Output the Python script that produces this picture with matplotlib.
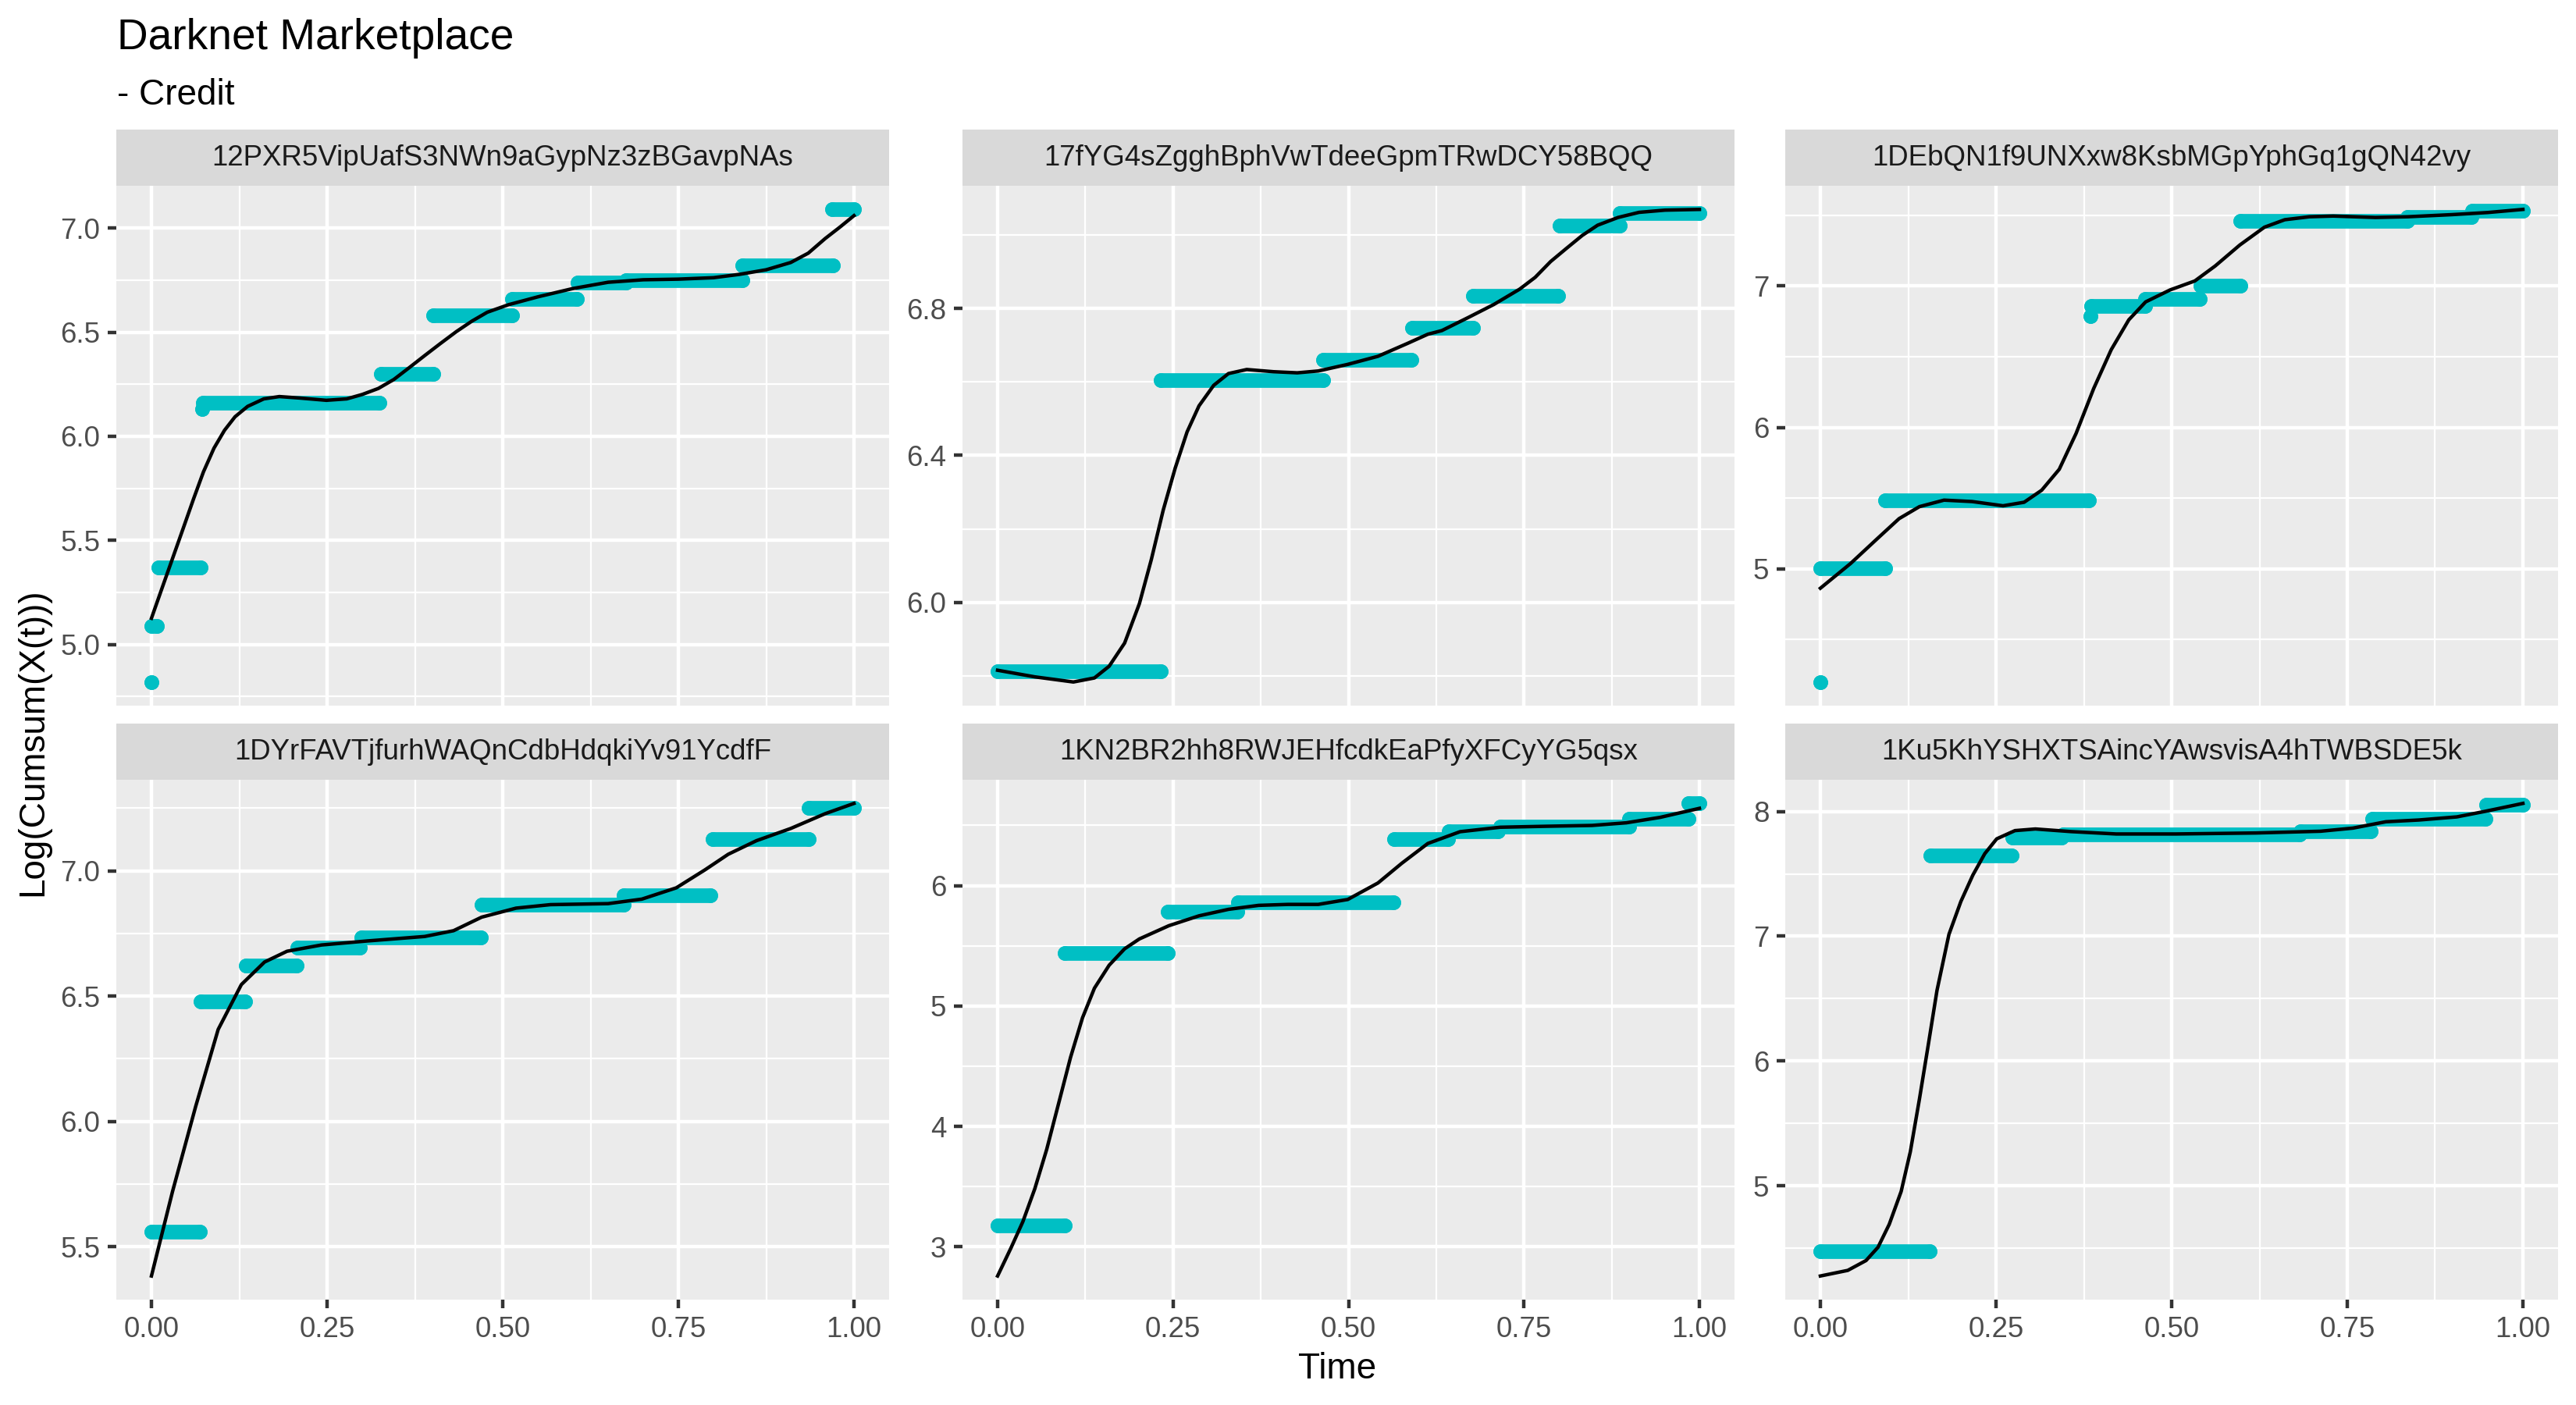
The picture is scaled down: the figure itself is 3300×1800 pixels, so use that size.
import matplotlib
matplotlib.use("Agg")
import matplotlib.pyplot as plt

plt.rcParams['font.family'] = ['Liberation Sans', 'DejaVu Sans']

TEAL = '#00BFC4'
W, H, DPI = 3300, 1800, 300

title = "Darknet Marketplace"
subtitle = "- Credit"
x_title = "Time"
y_title = "Log(Cumsum(X(t)))"

addresses = [
    "12PXR5VipUafS3NWn9aGypNz3zBGavpNAs",
    "17fYG4sZgghBphVwTdeeGpmTRwDCY58BQQ",
    "1DEbQN1f9UNXxw8KsbMGpYphGq1gQN42vy",
    "1DYrFAVTjfurhWAQnCdbHdqkiYv91YcdfF",
    "1KN2BR2hh8RWJEHfcdkEaPfyXFCyYG5qsx",
    "1Ku5KhYSHXTSAincYAwsvisA4hTWBSDE5k",
]

# observed steps: start time, end time, log cumulative value
p1_start = [0.000, 0.000, 0.010, 0.072, 0.073, 0.327, 0.401, 0.513, 0.607, 0.675, 0.841, 0.969]
p1_end   = [0.000, 0.008, 0.070, 0.072, 0.324, 0.401, 0.513, 0.606, 0.675, 0.841, 0.970, 1.000]
p1_value = [4.82, 5.09, 5.37, 6.13, 6.16, 6.30, 6.58, 6.66, 6.74, 6.75, 6.82, 7.09]

p2_start = [0.000, 0.233, 0.464, 0.591, 0.677, 0.801, 0.887]
p2_end   = [0.233, 0.464, 0.590, 0.677, 0.799, 0.886, 1.000]
p2_value = [5.812, 6.605, 6.660, 6.748, 6.834, 7.027, 7.061]

p3_start = [0.000, 0.000, 0.092, 0.384, 0.385, 0.462, 0.541, 0.598, 0.836, 0.928]
p3_end   = [0.000, 0.092, 0.382, 0.384, 0.462, 0.540, 0.598, 0.836, 0.927, 1.000]
p3_value = [4.20, 5.003, 5.482, 6.79, 6.859, 6.908, 7.000, 7.461, 7.488, 7.534]

p4_start = [0.000, 0.070, 0.134, 0.208, 0.299, 0.470, 0.672, 0.799, 0.935]
p4_end   = [0.069, 0.133, 0.207, 0.297, 0.469, 0.672, 0.796, 0.935, 1.000]
p4_value = [5.559, 6.478, 6.621, 6.693, 6.733, 6.864, 6.903, 7.127, 7.251]

p5_start = [0.000, 0.096, 0.243, 0.343, 0.565, 0.643, 0.716, 0.900, 0.984]
p5_end   = [0.096, 0.242, 0.342, 0.564, 0.642, 0.713, 0.900, 0.984, 1.000]
p5_value = [3.175, 5.437, 5.784, 5.862, 6.388, 6.451, 6.493, 6.552, 6.683]

p6_start = [0.000, 0.157, 0.273, 0.346, 0.683, 0.786, 0.948]
p6_end   = [0.156, 0.272, 0.343, 0.682, 0.783, 0.947, 1.000]
p6_value = [4.477, 7.645, 7.792, 7.817, 7.842, 7.939, 8.054]

# loess smooth
p1_smooth_t = [0.0, 0.015, 0.030, 0.045, 0.060, 0.074, 0.089, 0.104, 0.119, 0.137, 0.160, 0.182,
               0.211, 0.249, 0.278, 0.300, 0.323, 0.345, 0.367, 0.389, 0.411, 0.434, 0.456,
               0.478, 0.508, 0.55, 0.6, 0.65, 0.7, 0.75, 0.8, 0.837, 0.875, 0.910, 0.935,
               0.959, 0.98, 1.0]
p1_smooth_v = [5.126, 5.27, 5.413, 5.556, 5.70, 5.829, 5.943, 6.029, 6.094, 6.144, 6.18, 6.191,
               6.184, 6.173, 6.18, 6.201, 6.23, 6.273, 6.33, 6.388, 6.445, 6.503, 6.553,
               6.596, 6.632, 6.67, 6.71, 6.74, 6.752, 6.755, 6.762, 6.778, 6.80, 6.835, 6.88,
               6.95, 7.005, 7.06]

p2_smooth_t = [0.0, 0.053, 0.108, 0.138, 0.159, 0.181, 0.202, 0.219, 0.236, 0.253, 0.270, 0.287,
               0.308, 0.329, 0.355, 0.393, 0.427, 0.457, 0.499, 0.542, 0.584, 0.613, 0.633,
               0.670, 0.707, 0.744, 0.766, 0.788, 0.810, 0.833, 0.855, 0.884, 0.914, 0.951, 1.0]
p2_smooth_v = [5.815, 5.797, 5.783, 5.794, 5.826, 5.889, 5.996, 6.116, 6.251, 6.365, 6.464,
               6.535, 6.591, 6.623, 6.634, 6.628, 6.625, 6.630, 6.648, 6.67, 6.705, 6.73, 6.74,
               6.775, 6.811, 6.853, 6.885, 6.928, 6.963, 6.999, 7.027, 7.048, 7.062, 7.068, 7.07]

p3_smooth_t = [0.0, 0.043, 0.082, 0.112, 0.141, 0.176, 0.216, 0.260, 0.290, 0.315, 0.340, 0.364,
               0.389, 0.414, 0.439, 0.463, 0.498, 0.533, 0.562, 0.597, 0.632, 0.661, 0.696,
               0.730, 0.79, 0.836, 0.899, 0.95, 1.0]
p3_smooth_v = [4.863, 5.038, 5.218, 5.355, 5.44, 5.486, 5.476, 5.446, 5.471, 5.556, 5.704, 5.958,
               6.275, 6.55, 6.761, 6.888, 6.973, 7.036, 7.142, 7.29, 7.416, 7.469, 7.49,
               7.495, 7.485, 7.49, 7.505, 7.52, 7.542]

p4_smooth_t = [0.0, 0.03, 0.063, 0.095, 0.128, 0.161, 0.193, 0.242, 0.307, 0.389, 0.43, 0.47,
               0.519, 0.568, 0.65, 0.698, 0.747, 0.788, 0.821, 0.861, 0.91, 0.959, 1.0]
p4_smooth_v = [5.383, 5.72, 6.06, 6.367, 6.546, 6.636, 6.679, 6.704, 6.72, 6.738, 6.761, 6.815,
               6.851, 6.865, 6.869, 6.887, 6.932, 7.004, 7.066, 7.12, 7.169, 7.228, 7.269]

p5_smooth_t = [0.0, 0.019, 0.036, 0.053, 0.070, 0.087, 0.104, 0.121, 0.138, 0.159, 0.181, 0.202,
               0.244, 0.287, 0.329, 0.372, 0.414, 0.457, 0.499, 0.542, 0.576, 0.613, 0.659,
               0.716, 0.781, 0.847, 0.896, 0.944, 1.0]
p5_smooth_v = [2.757, 2.989, 3.208, 3.481, 3.809, 4.191, 4.574, 4.902, 5.148, 5.339, 5.475, 5.557,
               5.667, 5.749, 5.803, 5.836, 5.844, 5.844, 5.885, 6.022, 6.186, 6.35, 6.448,
               6.485, 6.493, 6.50, 6.522, 6.567, 6.642]

p6_smooth_t = [0.0, 0.039, 0.065, 0.082, 0.098, 0.115, 0.128, 0.141, 0.154, 0.166, 0.183, 0.200,
               0.217, 0.234, 0.251, 0.277, 0.306, 0.357, 0.421, 0.506, 0.62, 0.712, 0.758,
               0.805, 0.852, 0.906, 0.945, 1.0]
p6_smooth_v = [4.277, 4.322, 4.401, 4.507, 4.691, 4.955, 5.272, 5.695, 6.144, 6.566, 7.015, 7.279,
               7.49, 7.662, 7.781, 7.847, 7.86, 7.839, 7.82, 7.82, 7.828, 7.842, 7.867,
               7.918, 7.932, 7.957, 8.0, 8.065]

p1_yticks = [5.0, 5.5, 6.0, 6.5, 7.0]
p2_yticks = [6.0, 6.4, 6.8]
p3_yticks = [5, 6, 7]
p4_yticks = [5.5, 6.0, 6.5, 7.0]
p5_yticks = [3, 4, 5, 6]
p6_yticks = [5, 6, 7, 8]
p1_ylabels = ["5.0", "5.5", "6.0", "6.5", "7.0"]
p2_ylabels = ["6.0", "6.4", "6.8"]
p3_ylabels = ["5", "6", "7"]
p4_ylabels = ["5.5", "6.0", "6.5", "7.0"]
p5_ylabels = ["3", "4", "5", "6"]
p6_ylabels = ["5", "6", "7", "8"]

x_ticks = [0.0, 0.25, 0.5, 0.75, 1.0]
x_labels = ["0.00", "0.25", "0.50", "0.75", "1.00"]

panels = [
    (p1_start, p1_end, p1_value, p1_smooth_t, p1_smooth_v, p1_yticks, p1_ylabels),
    (p2_start, p2_end, p2_value, p2_smooth_t, p2_smooth_v, p2_yticks, p2_ylabels),
    (p3_start, p3_end, p3_value, p3_smooth_t, p3_smooth_v, p3_yticks, p3_ylabels),
    (p4_start, p4_end, p4_value, p4_smooth_t, p4_smooth_v, p4_yticks, p4_ylabels),
    (p5_start, p5_end, p5_value, p5_smooth_t, p5_smooth_v, p5_yticks, p5_ylabels),
    (p6_start, p6_end, p6_value, p6_smooth_t, p6_smooth_v, p6_yticks, p6_ylabels),
]

# pixel layout (left, right) per column, (strip top, panel top, panel bottom) per row
cols = [(149, 1139), (1233, 2222), (2287, 3277)]
rows = [(166, 238, 904), (927, 999, 1665)]

fig = plt.figure(figsize=(W / DPI, H / DPI), dpi=DPI)


def box(l, t, r, b):
    return [l / W, 1 - b / H, (r - l) / W, (b - t) / H]


for i, (st, en, val, sm_t, sm_v, yt, yl) in enumerate(panels):
    row, col = divmod(i, 3)
    l, r = cols[col]
    s_top, p_top, p_bot = rows[row]

    ax = fig.add_axes(box(l, p_top, r, p_bot))
    ax.set_facecolor('#EBEBEB')
    for sp in ax.spines.values():
        sp.set_visible(False)

    for s, e, v in zip(st, en, val):
        ax.plot([s, e], [v, v], color=TEAL, lw=4.5, solid_capstyle='round',
                marker='o', ms=4.5, mew=0, zorder=2)
    ax.plot(sm_t, sm_v, color='black', lw=1.07, zorder=3, solid_joinstyle='round')

    lo = min(min(val), min(sm_v))
    hi = max(max(val), max(sm_v))
    pad = (hi - lo) * 0.05
    ax.set_ylim(lo - pad, hi + pad)
    ax.set_xlim(-0.05, 1.05)

    step = yt[1] - yt[0]
    minor_y = [y - step / 2 for y in yt] + [yt[-1] + step / 2]
    minor_y = [y for y in minor_y if lo - pad <= y <= hi + pad]
    ax.set_yticks(yt)
    ax.set_yticklabels(yl)
    ax.set_yticks(minor_y, minor=True)
    ax.set_xticks(x_ticks)
    ax.set_xticklabels(x_labels)
    ax.set_xticks([0.125, 0.375, 0.625, 0.875], minor=True)

    ax.grid(which='major', color='white', lw=1.07)
    ax.grid(which='minor', color='white', lw=0.53)
    ax.set_axisbelow(True)
    ax.tick_params(which='major', length=2.75, width=1.07, color='#333333',
                   labelsize=8.8, labelcolor='#4D4D4D', pad=2.2)
    ax.tick_params(which='minor', length=0)
    if row == 0:
        ax.tick_params(axis='x', which='major', length=0, labelbottom=False)

    sax = fig.add_axes(box(l, s_top, r, p_top))
    sax.set_facecolor('#D9D9D9')
    sax.set_xticks([])
    sax.set_yticks([])
    for sp in sax.spines.values():
        sp.set_visible(False)
    sax.text(0.5, 0.5, addresses[i], ha='center', va='center', fontsize=8.8,
             color='#1A1A1A', transform=sax.transAxes)

fig.text(150 / W, 1 - 63 / H, title, fontsize=13.2, color='black', va='baseline')
fig.text(150 / W, 1 - 134 / H, subtitle, fontsize=11, color='black', va='baseline')
fig.text(1713 / W, 1 - 1766 / H, x_title, fontsize=11, ha='center', va='baseline')
fig.text(42 / W, 1 - 951 / H, y_title, fontsize=11, ha='center', va='center', rotation=90)

fig.savefig('out.png', dpi=DPI, facecolor='white')
